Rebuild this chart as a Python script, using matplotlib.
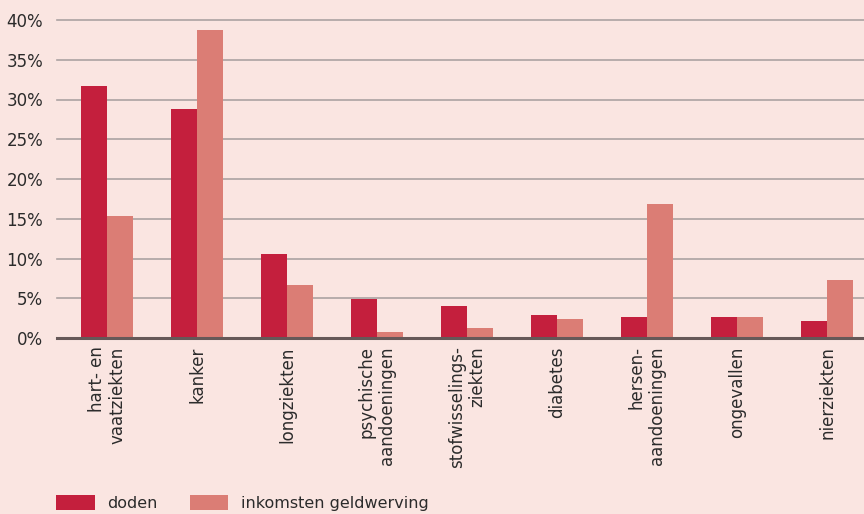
import matplotlib
matplotlib.use("Agg")
import matplotlib.pyplot as plt
from matplotlib.patches import Patch
import numpy as np

categories = ["hart- en\nvaatziekten", "kanker", "longziekten", "psychische\naandoeningen",
              "stofwisselings-\nziekten", "diabetes", "hersen-\naandoeningen", "ongevallen", "nierziekten"]
doden = [31.7, 28.8, 10.6, 4.9, 4.0, 2.9, 2.6, 2.6, 2.1]
inkomsten = [15.3, 38.7, 6.7, 0.7, 1.2, 2.4, 16.9, 2.6, 7.3]
yticks = [0, 5, 10, 15, 20, 25, 30, 35, 40]
series_names = ["doden", "inkomsten geldwerving"]

bg = "#FAE5E1"
c_doden = "#C41F3D"
c_ink = "#DB7D75"
txt = "#2b2b2b"

plt.rcParams['font.family'] = ['DejaVu Sans']

fig = plt.figure(figsize=(8.64, 5.14), dpi=100, facecolor=bg)
W, H = 864, 514
ax = fig.add_axes([57 / W, (H - 338) / H, (W - 57) / W, (338 - 20) / H])
ax.set_facecolor(bg)

x = np.arange(len(categories))
w = 0.29
ax.bar(x - w / 2, doden, width=w, color=c_doden, zorder=3)
ax.bar(x + w / 2, inkomsten, width=w, color=c_ink, zorder=3)

ax.set_xlim(-0.556, len(categories) - 1 + 0.41)
ax.set_ylim(0, 40)
ax.set_yticks(yticks)
ax.set_yticklabels([f"{v}%" for v in yticks], fontsize=12, color=txt)
for v in yticks[1:]:
    ax.axhline(v, color="#ABA2A2", linewidth=1.2, zorder=1, clip_on=False)
ax.axhline(0, color="#665858", linewidth=2.2, zorder=4, clip_on=False)

for s in ax.spines.values():
    s.set_visible(False)
ax.tick_params(axis='y', length=0, pad=10)
ax.tick_params(axis='x', length=0, pad=6)
ax.set_xticks(x)
ax.set_xticklabels(categories, rotation=90, fontsize=12, color=txt,
                   va='top', ha='center', multialignment='right')

handles = [Patch(facecolor=c_doden, edgecolor='none'), Patch(facecolor=c_ink, edgecolor='none')]
fig.legend(handles, series_names, loc='lower left', bbox_to_anchor=(42 / W, -11 / H),
           ncol=2, frameon=False, fontsize=11.5, handlelength=2.4, handleheight=1.05,
           handletextpad=0.8, columnspacing=2.0, labelcolor=txt)

fig.savefig("out.png", dpi=100, facecolor=bg)
